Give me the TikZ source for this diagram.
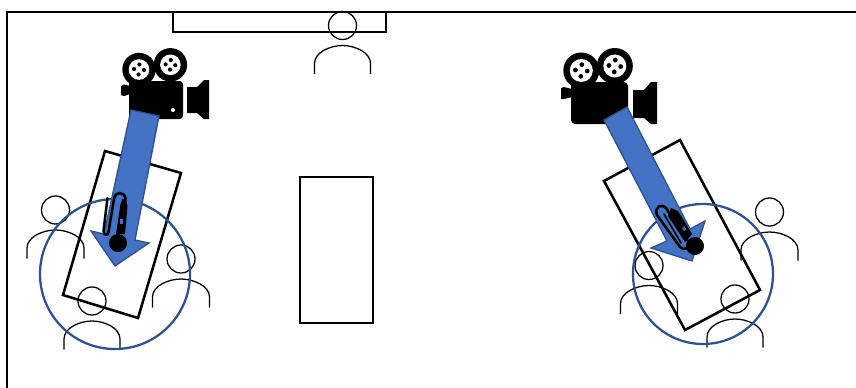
\documentclass[tikz,border=0pt]{standalone}
\definecolor{arrowfill}{HTML}{4472C4}
\definecolor{arrowedge}{HTML}{2F528F}
\newcommand{\personicon}[3]{% head x, head y, half body width
  \draw[personline] (#1,#2) circle (14);
  \draw[personline] (#1-#3,#2+48.5) -- (#1-#3,#2+38) .. controls (#1-#3,#2+27) and (#1-#3*0.45,#2+20) .. (#1,#2+20) .. controls (#1+#3*0.45,#2+20) and (#1+#3,#2+27) .. (#1+#3,#2+38) -- (#1+#3,#2+48.5);
}
\newcommand{\reel}[6]{% x,y,outer r,inner r,dot r,dot offset
  \fill[black] (#1,#2) circle (#3);
  \fill[white] (#1,#2) circle (#4);
  \foreach \a in {5,95,185,275}{\fill[black] (#1,#2) ++(\a:#6) circle (#5);}
}
\tikzset{
  x=0.75pt,y=-0.75pt,
  roomline/.style={draw=black,line width=1.9pt},
  personline/.style={draw=black,line width=0.95pt},
  spot/.style={draw=arrowedge,line width=1.7pt},
  bluearrow/.style={fill=arrowfill,draw=arrowedge,line width=1pt,line join=miter},
  clipline/.style={draw=black,line width=1.9pt,line join=round,line cap=round}
}
\begin{document}
\begin{tikzpicture}
\useasboundingbox (0,0) rectangle (856,387);
\fill[white] (0,0) rectangle (856,387);
% room
\draw[roomline] (7,388) -- (7,12) -- (857,12);
\draw[roomline] (173,12) rectangle (386,32);
\draw[roomline] (300,177) rectangle (373,323);
% tables
\draw[roomline] (105,151) -- (181,173) -- (138,318) -- (63,295) -- cycle;
\draw[roomline] (680,140) -- (760,290) -- (685,330) -- (604,181) -- cycle;
% people
\personicon{342.5}{25.5}{28}
\personicon{55.5}{210}{28.5}
\personicon{181}{259}{28.5}
\personicon{92}{301}{28}
\personicon{769.5}{212}{28.5}
\personicon{649}{265.5}{28.5}
\personicon{735}{299}{28}
% spots
\draw[spot] (115,274) circle (75);
\draw[spot] (703,274) circle (70);
% left camera
\reel{139}{69.5}{16.7}{10.3}{2.1}{5}
\reel{170.4}{64.8}{16.7}{10.3}{2.1}{4.8}
\fill[black,rounded corners=2.5] (129,81) rectangle (183,119);
\fill[black] (121,86) -- (124,84.5) -- (130,86) -- (130,94) -- (124,96) -- (121,95) -- cycle;
\fill[black] (187,87) -- (197,87) -- (204,80) -- (209,80) -- (209,119) -- (204,119) -- (197,113) -- (187,113) -- cycle;
\fill[white] (173,110) circle (2);
% right camera
\reel{581.3}{70.5}{18}{11.5}{2.4}{5.9}
\reel{614.8}{66}{18}{11.5}{2.4}{5.9}
\fill[black,rounded corners=3] (571,82) rectangle (628,124);
\fill[black] (561,88) -- (564,87) -- (572,89) -- (572,97) -- (564,99) -- (561,99) -- cycle;
\fill[black] (633,90) -- (644,90) -- (651,82) -- (657,82) -- (657,124) -- (651,124) -- (644,118) -- (633,118) -- cycle;
% arrows
\draw[bluearrow] (131,110) -- (159,116) -- (135,240) -- (149,243) -- (115,266) -- (91,231) -- (104,234) -- cycle;
\draw[bluearrow] (604,120) -- (627,107) -- (690,229) -- (705,221) -- (692,261) -- (651,248) -- (667,241) -- cycle;
% left microphone
\draw[clipline] (107.5,198) -- (103.5,231) .. controls (103.5,236) and (108,236) .. (108.5,232) -- (114,199) .. controls (115,191) and (125,191) .. (125.5,199) -- (124,210);
\fill[black] (120.5,204) -- (122.5,199) -- (126,200) -- (127.5,206) -- (125,234) -- (116,234) -- cycle;
\fill[arrowfill] (120,219) rectangle (122.5,224);
\fill[black] (118,243) circle (9);
% right microphone
\draw[clipline] (657,215) .. controls (654,207) and (661,203) .. (666,208) -- (688,241) .. controls (690,249) and (684,251) .. (680,247) -- cycle;
\draw[clipline,line width=1.2pt] (664,214) -- (681,243);
\fill[black] (668,216) -- (671,208) -- (678,211) -- (692,234) -- (685,242) -- cycle;
\fill[arrowfill] (682,228) -- (684.5,226.5) -- (686.5,229.5) -- (684,231) -- cycle;
\fill[black] (695,246) circle (9);
\end{tikzpicture}
\end{document}
